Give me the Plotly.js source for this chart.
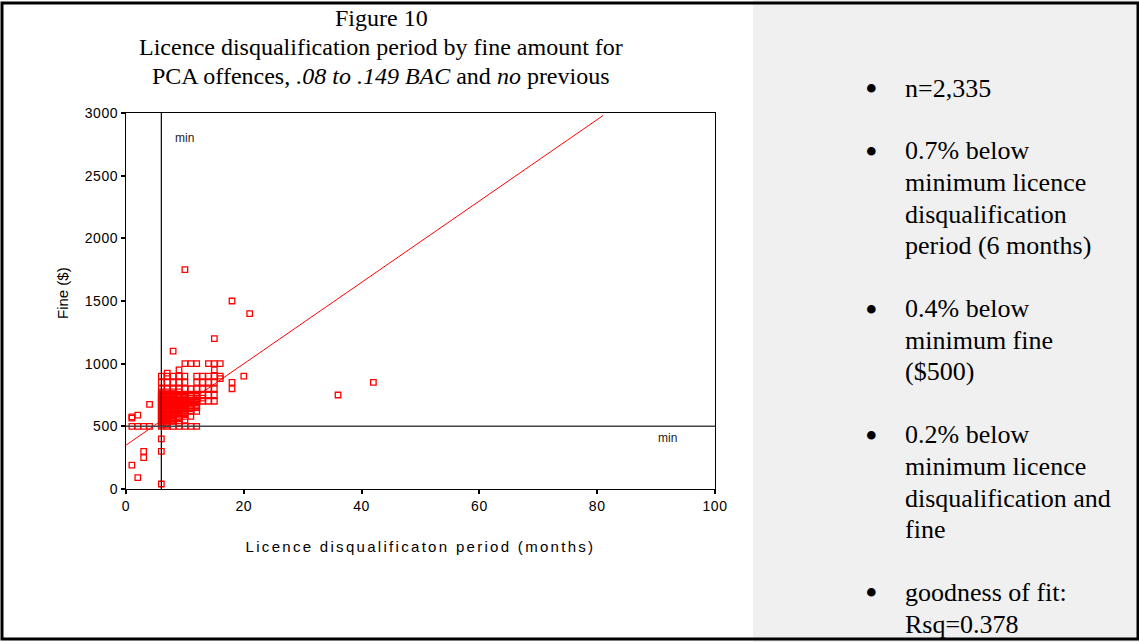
<!DOCTYPE html>
<html>
<head>
<meta charset="utf-8">
<script src="https://cdn.plot.ly/plotly-3.0.1.min.js"></script>
<style>
  html, body { margin: 0; padding: 0; background: #ffffff; }
  #chart { width: 1139px; height: 642px; }
  .xtitle { letter-spacing: 2.3px; }
  .xtick text, .ytick text { letter-spacing: 0.6px; }
</style>
</head>
<body>
<div id="chart"></div>
<script>
// Fines ($) recorded at each licence disqualification period (months)
const groupMonths = [1, 2, 3, 4, 6, 7, 8, 9, 10, 11, 12, 13, 14, 15, 16, 18, 20, 21, 36, 42];
const finesAt1 = [190, 500, 565, 575];
const finesAt2 = [90, 500, 590];
const finesAt3 = [250, 300, 500];
const finesAt4 = [500, 675];
const finesAt6 = [40, 300, 400, 500, 510, 520, 530, 540, 550, 560, 570, 580, 590, 600, 610, 620, 630, 640, 650, 660, 670, 680, 690, 700, 710, 720, 730, 740, 750, 760, 775, 800, 850, 900];
const finesAt7 = [500, 510, 520, 530, 540, 550, 560, 570, 580, 590, 600, 610, 620, 630, 640, 650, 660, 670, 680, 690, 700, 710, 720, 730, 740, 750, 760, 775, 800, 850, 900, 925];
const finesAt8 = [500, 540, 550, 560, 570, 580, 590, 600, 610, 620, 630, 640, 650, 660, 670, 680, 690, 700, 710, 720, 730, 740, 750, 760, 775, 800, 850, 900, 1100];
const finesAt9 = [500, 525, 560, 570, 580, 590, 600, 610, 620, 630, 640, 650, 660, 670, 680, 690, 700, 710, 720, 730, 740, 750, 775, 800, 850, 900, 950];
const finesAt10 = [500, 550, 580, 600, 610, 620, 630, 640, 650, 660, 670, 680, 690, 700, 710, 720, 730, 740, 750, 800, 850, 900, 1000, 1750];
const finesAt11 = [500, 580, 620, 640, 650, 660, 675, 690, 700, 710, 725, 740, 750, 800, 1000];
const finesAt12 = [500, 620, 650, 660, 675, 690, 700, 710, 725, 740, 750, 800, 850, 900, 1000];
const finesAt13 = [700, 725, 750, 800, 850, 900];
const finesAt14 = [700, 750, 800, 850, 900, 1000];
const finesAt15 = [700, 750, 800, 850, 900, 950, 1000, 1200];
const finesAt16 = [880, 900, 1000];
const finesAt18 = [800, 850, 1500];
const finesAt20 = [900];
const finesAt21 = [1400];
const finesAt36 = [750];
const finesAt42 = [850];
const fineGroups = [finesAt1, finesAt2, finesAt3, finesAt4, finesAt6, finesAt7, finesAt8, finesAt9,
  finesAt10, finesAt11, finesAt12, finesAt13, finesAt14, finesAt15, finesAt16, finesAt18,
  finesAt20, finesAt21, finesAt36, finesAt42];

// Flatten into one point per case
const caseMonths = [];
const caseFines = [];
fineGroups.forEach((fines, i) => {
  fines.forEach(f => { caseMonths.push(groupMonths[i]); caseFines.push(f); });
});

// Linear fit line end points
const fitMonths = [0, 81];
const fitFines = [350, 2980];

// Statutory minimums
const minMonths = 6;
const minFine = 500;

// Axis ticks
const xTicks = [0, 20, 40, 60, 80, 100];
const yTicks = [0, 500, 1000, 1500, 2000, 2500, 3000];

// Titles and notes
const titleLines = [
  "Figure 10",
  "Licence disqualification period by fine amount for",
  "PCA offences, <i>.08 to .149 BAC</i> and <i>no</i> previous"
];
const yAxisLabel = "Fine ($)";
const xAxisLabel = "Licence disqualificaton period (months)";
const noteItems = [
  ["n=2,335"],
  ["0.7% below", "minimum licence", "disqualification", "period (6 months)"],
  ["0.4% below", "minimum fine", "($500)"],
  ["0.2% below", "minimum licence", "disqualification and", "fine"],
  ["goodness of fit:", "Rsq=0.378"]
];

// Page geometry (pixels) of the plotting frame
const W = 1139, H = 642;
const PL = 126, PR = 715, PT = 113, PB = 489;
const px2x = p => (p - PL) / (PR - PL);
const py2y = p => (PB - p) / (PB - PT);

const red = '#ff0000';

const traces = [
  {
    x: caseMonths, y: caseFines, type: 'scatter', mode: 'markers',
    marker: { symbol: 'square-open', size: 5.5, color: red, line: { width: 1.3, color: red } },
    cliponaxis: false, hoverinfo: 'skip'
  },
  {
    x: fitMonths, y: fitFines, type: 'scatter', mode: 'lines',
    line: { color: red, width: 1 }, hoverinfo: 'skip'
  }
];

const serif = 'Liberation Serif, Times New Roman, serif';
const sans = 'Liberation Sans, Arial, sans-serif';

const annotations = [];
const titleY = [18, 47, 76];
titleLines.forEach((t, i) => {
  annotations.push({
    xref: 'paper', yref: 'paper', x: px2x(381), y: py2y(titleY[i]),
    xanchor: 'center', yanchor: 'middle', showarrow: false, text: t,
    font: { family: serif, size: 24, color: '#000' }
  });
});

// Y axis label, rotated
annotations.push({
  xref: 'paper', yref: 'paper', x: px2x(62), y: py2y(293),
  xanchor: 'center', yanchor: 'middle', showarrow: false, textangle: -90,
  text: yAxisLabel, font: { family: sans, size: 15, color: '#000' }
});

let lineIdx = 0;
noteItems.forEach((lines, g) => {
  lines.forEach((t, j) => {
    const yy = 88 + lineIdx * 31.7 + g * 31;
    if (j === 0) {
      annotations.push({
        xref: 'paper', yref: 'paper', x: px2x(871), y: py2y(yy + 1),
        xanchor: 'center', yanchor: 'middle', showarrow: false, text: '•',
        font: { family: serif, size: 36, color: '#000' }
      });
    }
    annotations.push({
      xref: 'paper', yref: 'paper', x: px2x(903), y: py2y(yy),
      xanchor: 'left', yanchor: 'middle', showarrow: false, text: t,
      font: { family: serif, size: 26, color: '#000' }
    });
    lineIdx++;
  });
});

annotations.push({
  x: 10, y: 2800, xref: 'x', yref: 'y', showarrow: false, text: 'min',
  font: { family: sans, size: 12, color: '#222' }
});
annotations.push({
  x: 92, y: 410, xref: 'x', yref: 'y', showarrow: false, text: 'min',
  font: { family: sans, size: 12, color: '#222' }
});

const shapes = [
  // note panel
  { type: 'rect', xref: 'paper', yref: 'paper', layer: 'below',
    x0: px2x(753), x1: px2x(W), y0: py2y(H), y1: py2y(0),
    fillcolor: '#f0f0f0', line: { width: 0 } },
  // outer frame
  { type: 'rect', xref: 'paper', yref: 'paper',
    x0: px2x(2), x1: px2x(1138), y0: py2y(639), y1: py2y(3),
    line: { color: '#000', width: 3 } },
  // minimum disqualification period
  { type: 'line', xref: 'x', yref: 'y', x0: minMonths, x1: minMonths, y0: 0, y1: 3000,
    line: { color: '#000', width: 1.2 } },
  // minimum fine
  { type: 'line', xref: 'x', yref: 'y', x0: 0, x1: 100, y0: minFine, y1: minFine,
    line: { color: '#444', width: 1.5 } }
];

const axisCommon = {
  showline: true, mirror: true, linecolor: '#000', linewidth: 1,
  ticks: 'outside', ticklen: 4, tickwidth: 2, tickcolor: '#000',
  showgrid: false, zeroline: false, fixedrange: true,
  tickfont: { family: sans, size: 14, color: '#000' }
};

const layout = {
  width: W, height: H,
  margin: { l: PL, r: W - PR, t: PT, b: H - PB },
  paper_bgcolor: '#ffffff', plot_bgcolor: '#ffffff',
  showlegend: false, hovermode: false,
  xaxis: Object.assign({}, axisCommon, {
    range: [0, 100], tickvals: xTicks, ticktext: xTicks.map(String),
    title: { text: xAxisLabel, standoff: 28,
             font: { family: sans, size: 15, color: '#000' } }
  }),
  yaxis: Object.assign({}, axisCommon, {
    range: [0, 3000], tickvals: yTicks, ticktext: yTicks.map(String)
  }),
  shapes: shapes,
  annotations: annotations
};

Plotly.newPlot('chart', traces, layout, { staticPlot: true, displayModeBar: false });
</script>
</body>
</html>
